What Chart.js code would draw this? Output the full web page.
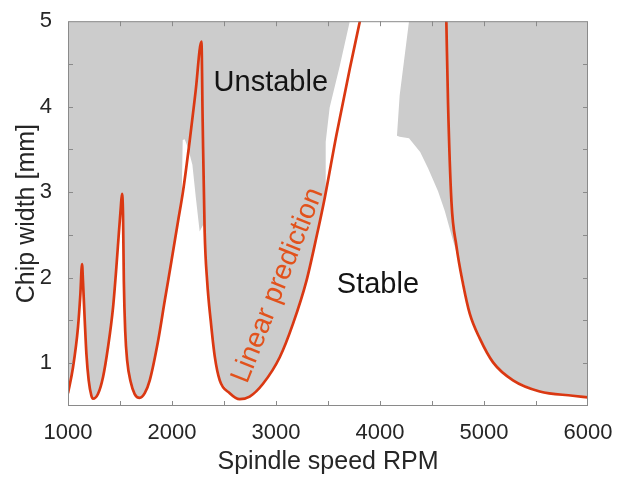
<!DOCTYPE html>
<html>
<head>
<meta charset="utf-8">
<script src="https://cdn.jsdelivr.net/npm/chart.js@4.4.1/dist/chart.umd.min.js"></script>
<style>
  html, body { margin: 0; padding: 0; background: #fff; }
  canvas { display: block; }
</style>
</head>
<body>
<canvas id="lobeChart" width="623" height="478"></canvas>
<script>
// linear prediction (red line)
const redRpm = [1000, 1048, 1096, 1119, 1135, 1144, 1161, 1177, 1199, 1225,
    1240, 1288, 1337, 1385, 1433, 1465, 1490, 1507, 1519, 1529,
    1537, 1550, 1569, 1603, 1641, 1689, 1738, 1786, 1866, 1930,
    1994, 2058, 2106, 2171, 2228, 2283, 2295, 2314, 2338, 2372,
    2411, 2459, 2555, 2651, 2747, 2875, 3036, 3163, 3292, 3388,
    3468, 3581, 3709, 3805, 3863, 4632, 4638, 4654, 4687, 4735,
    4798, 4863, 4959, 5087, 5279, 5536, 5853, 6000];
const redWidth = [0.65, 0.95, 1.42, 1.81, 2.16, 1.96, 1.50, 1.11, 0.80, 0.62,
    0.585, 0.64, 0.84, 1.19, 1.65, 2.12, 2.54, 2.81, 2.98, 2.74,
    1.96, 1.38, 1.03, 0.78, 0.64, 0.595, 0.65, 0.80, 1.26, 1.73,
    2.19, 2.66, 3.01, 3.61, 4.19, 4.76, 3.82, 2.54, 1.96, 1.50,
    1.08, 0.80, 0.65, 0.58, 0.61, 0.76, 1.07, 1.46, 1.96, 2.47,
    2.93, 3.67, 4.44, 4.99, 5.33, 5.33, 4.99, 4.05, 2.89, 2.37,
    1.93, 1.58, 1.29, 1.01, 0.80, 0.67, 0.62, 0.60];

// unstable (gray) band: lower and upper edge at each rpm
const grayRpm = [1000, 1048, 1096, 1119, 1135, 1144, 1161, 1177, 1199, 1225,
    1240, 1288, 1337, 1385, 1433, 1465, 1490, 1507, 1519, 1529,
    1537, 1550, 1569, 1603, 1641, 1689, 1738, 1786, 1866, 1930,
    1994, 2058, 2093, 2103, 2122, 2151, 2196, 2228, 2266, 2300,
    2314, 2338, 2372, 2411, 2459, 2555, 2651, 2747, 2875, 3036,
    3163, 3292, 3388, 3472, 3478, 3516, 3612, 3708, 3720, 4150,
    4163, 4189, 4279, 4286, 4386, 4462, 4558, 4623, 4687, 4750,
    4798, 4863, 4959, 5087, 5279, 5536, 5853, 6000];
const grayLow = [0.65, 0.95, 1.42, 1.81, 2.16, 1.96, 1.50, 1.11, 0.80, 0.62,
    0.585, 0.64, 0.84, 1.19, 1.65, 2.12, 2.54, 2.81, 2.98, 2.74,
    1.96, 1.38, 1.03, 0.78, 0.64, 0.595, 0.65, 0.80, 1.26, 1.73,
    2.19, 2.66, 2.92, 3.61, 3.62, 3.53, 3.32, 2.95, 2.54, 2.62,
    2.54, 1.96, 1.50, 1.08, 0.80, 0.65, 0.58, 0.61, 0.76, 1.07,
    1.46, 1.96, 2.47, 2.98, 3.59, 3.99, 4.47, 4.99, 5.5, 5.5,
    3.66, 3.65, 3.63, 3.63, 3.47, 3.28, 3.01, 2.78, 2.50, 2.23,
    2.00, 1.58, 1.29, 1.01, 0.80, 0.67, 0.62, 0.60];
const grayHigh = [5.5, 5.5, 5.5, 5.5, 5.5, 5.5, 5.5, 5.5, 5.5, 5.5,
    5.5, 5.5, 5.5, 5.5, 5.5, 5.5, 5.5, 5.5, 5.5, 5.5,
    5.5, 5.5, 5.5, 5.5, 5.5, 5.5, 5.5, 5.5, 5.5, 5.5,
    5.5, 5.5, 5.5, 5.5, 5.5, 5.5, 5.5, 5.5, 5.5, 5.5,
    5.5, 5.5, 5.5, 5.5, 5.5, 5.5, 5.5, 5.5, 5.5, 5.5,
    5.5, 5.5, 5.5, 5.5, 5.5, 5.5, 5.5, 5.5, 5.5, 5.5,
    3.66, 4.13, 5.0, 5.5, 5.5, 5.5, 5.5, 5.5, 5.5, 5.5,
    5.5, 5.5, 5.5, 5.5, 5.5, 5.5, 5.5, 5.5];

const xTicks = [1000, 2000, 3000, 4000, 5000, 6000];
const yTicks = [1, 2, 3, 4, 5];

const FONT = '"Liberation Sans", Arial, sans-serif';
const toPoints = (xs, ys) => xs.map((x, i) => ({ x: x, y: ys[i] }));

// box, inward ticks and the labels inside the plot
const decor = {
    id: 'decor',
    afterDatasetsDraw(chart) {
        const { ctx, chartArea: a, scales: { x, y } } = chart;
        ctx.save();
        ctx.strokeStyle = '#8a8a8a';
        ctx.lineWidth = 1;
        ctx.beginPath();
        for (let v = 1500; v < 6000; v += 500) {
            const px = Math.round(x.getPixelForValue(v)) + 0.5;
            ctx.moveTo(px, a.bottom); ctx.lineTo(px, a.bottom - 5);
            ctx.moveTo(px, a.top); ctx.lineTo(px, a.top + 5);
        }
        for (let v = 1; v < 5; v += 0.5) {
            const py = Math.round(y.getPixelForValue(v)) + 0.5;
            ctx.moveTo(a.left, py); ctx.lineTo(a.left + 5, py);
            ctx.moveTo(a.right, py); ctx.lineTo(a.right - 5, py);
        }
        ctx.stroke();
        ctx.strokeRect(a.left + 0.5, a.top + 0.5, a.right - a.left - 1, a.bottom - a.top - 1);

        ctx.font = '29px ' + FONT;
        ctx.fillStyle = '#141414';
        ctx.textBaseline = 'alphabetic';
        ctx.fillText('Unstable', x.getPixelForValue(2400), y.getPixelForValue(4.18));
        ctx.fillText('Stable', x.getPixelForValue(3585), y.getPixelForValue(1.82));

        // rotated label along the rising branch
        ctx.translate(x.getPixelForValue(2721), y.getPixelForValue(0.75));
        ctx.rotate(-68.5 * Math.PI / 180);
        ctx.font = '28px ' + FONT;
        ctx.fillStyle = '#e2521c';
        ctx.fillText('Linear prediction', 0, 0);
        ctx.restore();
    }
};

new Chart(document.getElementById('lobeChart'), {
    type: 'line',
    data: {
        datasets: [{
            data: toPoints(grayRpm, grayHigh),
            borderWidth: 0,
            pointRadius: 0,
            tension: 0,
            fill: false,
            order: 2
        }, {
            data: toPoints(grayRpm, grayLow),
            borderWidth: 0,
            pointRadius: 0,
            tension: 0,
            backgroundColor: '#cccccc',
            fill: '-1',
            order: 1
        }, {
            data: toPoints(redRpm, redWidth),
            borderColor: '#da3812',
            borderWidth: 2.7,
            pointRadius: 0,
            cubicInterpolationMode: 'monotone',
            fill: false,
            order: 0
        }]
    },
    options: {
        responsive: false,
        animation: false,
        devicePixelRatio: 1,
        datasets: { line: { clip: 0 } },
        layout: { padding: { top: 19, right: 35, left: 0, bottom: 0 } },
        plugins: { legend: { display: false }, tooltip: { enabled: false } },
        scales: {
            x: {
                type: 'linear', min: 1000, max: 6000,
                grid: { display: false }, border: { display: false },
                afterBuildTicks: s => { s.ticks = xTicks.map(v => ({ value: v })); },
                afterFit: s => { s.height = 72; },
                ticks: {
                    font: { family: FONT, size: 22 }, color: '#262626', padding: 6,
                    maxRotation: 0, autoSkip: false, callback: v => String(v)
                },
                title: { display: true, text: 'Spindle speed RPM', font: { family: FONT, size: 25 }, color: '#262626', padding: { top: 0, bottom: 1 } }
            },
            y: {
                type: 'linear', min: 0.5, max: 5,
                grid: { display: false }, border: { display: false },
                afterBuildTicks: s => { s.ticks = yTicks.map(v => ({ value: v })); },
                afterFit: s => { s.width = 68; },
                ticks: { font: { family: FONT, size: 22 }, color: '#262626', padding: 8, callback: v => String(v) },
                title: { display: true, text: 'Chip width [mm]', font: { family: FONT, size: 25 }, color: '#262626', padding: { top: 12, bottom: 0 } }
            }
        }
    },
    plugins: [decor]
});
</script>
</body>
</html>
